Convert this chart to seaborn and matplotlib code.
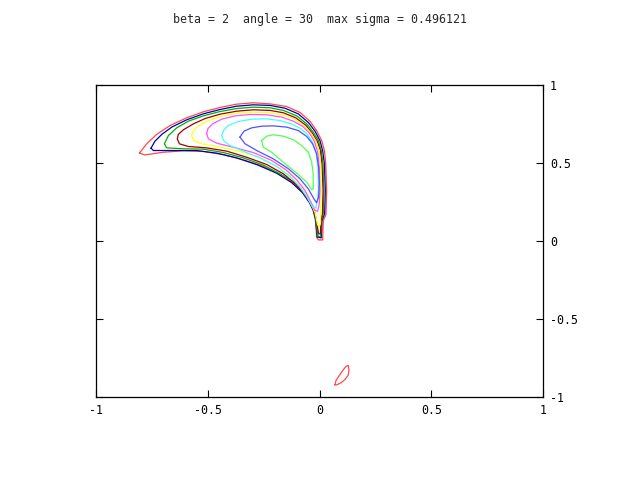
import pandas as pd
import seaborn as sns
import matplotlib.pyplot as plt

# contour lines, outermost first (x, y pairs)
c1_red = [(-0.806, 0.563), (-0.781, 0.552), (-0.699, 0.569), (-0.609, 0.578), (-0.520, 0.574),
          (-0.430, 0.554), (-0.341, 0.520), (-0.251, 0.478), (-0.177, 0.426), (-0.117, 0.371),
          (-0.072, 0.307), (-0.043, 0.243), (-0.025, 0.191), (-0.016, 0.142), (-0.013, 0.025),
          (-0.005, 0.007), (0.014, 0.007), (0.017, 0.131), (0.029, 0.170), (0.032, 0.324),
          (0.028, 0.495), (0.022, 0.580), (0.010, 0.644), (-0.013, 0.708), (-0.043, 0.768),
          (-0.087, 0.824), (-0.147, 0.862), (-0.221, 0.879), (-0.296, 0.886), (-0.371, 0.877),
          (-0.445, 0.856), (-0.520, 0.828), (-0.594, 0.790), (-0.669, 0.740), (-0.729, 0.683),
          (-0.773, 0.623), (-0.806, 0.563)]

c2_darkblue = [(-0.754, 0.595), (-0.743, 0.580), (-0.654, 0.580), (-0.550, 0.580), (-0.460, 0.563),
               (-0.371, 0.533), (-0.281, 0.490), (-0.192, 0.435), (-0.125, 0.375), (-0.077, 0.311),
               (-0.045, 0.247), (-0.028, 0.196), (-0.019, 0.142), (-0.010, 0.025), (0.008, 0.020),
               (0.011, 0.131), (0.023, 0.174), (0.026, 0.324), (0.022, 0.495), (0.014, 0.580),
               (0.002, 0.644), (-0.020, 0.704), (-0.050, 0.760), (-0.095, 0.815), (-0.154, 0.851),
               (-0.221, 0.869), (-0.296, 0.873), (-0.371, 0.864), (-0.445, 0.843), (-0.520, 0.815),
               (-0.594, 0.777), (-0.661, 0.730), (-0.706, 0.683), (-0.736, 0.640), (-0.754, 0.595)]

c3_green = [(-0.694, 0.623), (-0.684, 0.597), (-0.609, 0.591), (-0.520, 0.589), (-0.430, 0.567),
            (-0.341, 0.533), (-0.251, 0.486), (-0.177, 0.431), (-0.117, 0.379), (-0.072, 0.315),
            (-0.043, 0.251), (-0.025, 0.200), (-0.016, 0.131), (-0.007, 0.029), (0.005, 0.029),
            (0.008, 0.131), (0.017, 0.174), (0.020, 0.324), (0.016, 0.495), (0.008, 0.580),
            (-0.005, 0.644), (-0.028, 0.698), (-0.057, 0.751), (-0.102, 0.802), (-0.162, 0.837),
            (-0.221, 0.854), (-0.296, 0.858), (-0.371, 0.849), (-0.445, 0.830), (-0.520, 0.802),
            (-0.587, 0.768), (-0.639, 0.725), (-0.676, 0.676), (-0.694, 0.623)]

c4_darkred = [(-0.636, 0.655), (-0.627, 0.623), (-0.587, 0.606), (-0.505, 0.597), (-0.415, 0.576),
              (-0.326, 0.537), (-0.236, 0.490), (-0.162, 0.431), (-0.107, 0.366), (-0.066, 0.302),
              (-0.040, 0.238), (-0.022, 0.187), (-0.013, 0.121), (-0.004, 0.046), (0.004, 0.046),
              (0.007, 0.131), (0.013, 0.174), (0.016, 0.324), (0.011, 0.495), (0.004, 0.580),
              (-0.010, 0.640), (-0.032, 0.691), (-0.062, 0.743), (-0.107, 0.790), (-0.162, 0.822),
              (-0.221, 0.837), (-0.296, 0.841), (-0.371, 0.832), (-0.445, 0.813), (-0.512, 0.785),
              (-0.564, 0.751), (-0.609, 0.713), (-0.632, 0.683), (-0.636, 0.655)]

c5_yellow = [(-0.572, 0.676), (-0.564, 0.644), (-0.527, 0.623), (-0.460, 0.606), (-0.371, 0.580),
             (-0.281, 0.542), (-0.199, 0.486), (-0.139, 0.426), (-0.095, 0.362), (-0.060, 0.298),
             (-0.035, 0.232), (-0.019, 0.178), (-0.010, 0.110), (-0.002, 0.089), (0.004, 0.110),
             (0.005, 0.174), (0.008, 0.324), (0.005, 0.495), (-0.002, 0.580), (-0.016, 0.640),
             (-0.038, 0.691), (-0.068, 0.738), (-0.110, 0.781), (-0.162, 0.807), (-0.221, 0.822),
             (-0.296, 0.826), (-0.371, 0.819), (-0.438, 0.800), (-0.497, 0.772), (-0.542, 0.738),
             (-0.564, 0.708), (-0.572, 0.676)]

c6_magenta = [(-0.505, 0.687), (-0.497, 0.655), (-0.460, 0.627), (-0.386, 0.601), (-0.296, 0.567),
              (-0.214, 0.516), (-0.150, 0.456), (-0.102, 0.392), (-0.065, 0.324), (-0.038, 0.249),
              (-0.020, 0.196), (-0.008, 0.191), (-0.001, 0.238), (0.002, 0.324), (-0.001, 0.473),
              (-0.008, 0.569), (-0.023, 0.640), (-0.045, 0.691), (-0.075, 0.734), (-0.117, 0.768),
              (-0.169, 0.794), (-0.236, 0.809), (-0.311, 0.811), (-0.378, 0.802), (-0.438, 0.781),
              (-0.478, 0.751), (-0.499, 0.721), (-0.505, 0.687)]

c7_cyan = [(-0.438, 0.676), (-0.427, 0.640), (-0.400, 0.612), (-0.341, 0.576), (-0.266, 0.533),
           (-0.192, 0.478), (-0.132, 0.413), (-0.087, 0.345), (-0.054, 0.277), (-0.031, 0.217),
           (-0.016, 0.213), (-0.010, 0.260), (-0.005, 0.324), (-0.007, 0.473), (-0.016, 0.569),
           (-0.031, 0.634), (-0.054, 0.683), (-0.084, 0.721), (-0.125, 0.751), (-0.177, 0.772),
           (-0.236, 0.783), (-0.304, 0.781), (-0.363, 0.766), (-0.408, 0.740), (-0.430, 0.708),
           (-0.438, 0.676)]

c8_blue = [(-0.356, 0.666), (-0.333, 0.623), (-0.281, 0.580), (-0.207, 0.527), (-0.139, 0.463),
           (-0.087, 0.399), (-0.050, 0.334), (-0.025, 0.270), (-0.013, 0.245), (-0.004, 0.281),
           (-0.001, 0.366), (-0.004, 0.473), (-0.013, 0.559), (-0.031, 0.623), (-0.057, 0.670),
           (-0.095, 0.708), (-0.147, 0.730), (-0.207, 0.738), (-0.259, 0.736), (-0.304, 0.725),
           (-0.338, 0.704), (-0.356, 0.666)]

c9_lightgreen = [(-0.259, 0.644), (-0.251, 0.601), (-0.214, 0.569), (-0.154, 0.495), (-0.102, 0.435),
                 (-0.057, 0.377), (-0.035, 0.328), (-0.028, 0.334), (-0.028, 0.431), (-0.035, 0.505),
                 (-0.050, 0.569), (-0.080, 0.612), (-0.117, 0.649), (-0.162, 0.672), (-0.207, 0.681),
                 (-0.236, 0.672), (-0.259, 0.644)]

# small red loop near the bottom
c1_red_island = [(0.069, -0.922), (0.074, -0.894), (0.089, -0.862), (0.104, -0.830), (0.119, -0.803),
                 (0.129, -0.798), (0.132, -0.830), (0.128, -0.862), (0.114, -0.888), (0.096, -0.909),
                 (0.077, -0.922), (0.069, -0.922)]

contours = {
    'c1': c1_red, 'c1b': c1_red_island, 'c2': c2_darkblue, 'c3': c3_green,
    'c4': c4_darkred, 'c5': c5_yellow, 'c6': c6_magenta, 'c7': c7_cyan,
    'c8': c8_blue, 'c9': c9_lightgreen,
}
colors = {
    'c1': '#ff4848', 'c1b': '#ff4848', 'c2': '#0000b0', 'c3': '#00b000',
    'c4': '#a00000', 'c5': '#ffff20', 'c6': '#ff50ff', 'c7': '#40ffff',
    'c8': '#5050ff', 'c9': '#50ff50',
}

ticks = [-1, -0.5, 0, 0.5, 1]
tick_labels = ['-1', '-0.5', '0', '0.5', '1']
title = 'beta = 2  angle = 30  max sigma = 0.496121'

rows = []
for name, pts in contours.items():
    for i, (x, y) in enumerate(pts):
        rows.append({'line': name, 'order': i, 'x': x, 'y': y})
df = pd.DataFrame(rows)

sns.set_style('white')
plt.rcParams['font.family'] = ['DejaVu Sans Mono']
plt.rcParams['axes.unicode_minus'] = False

fig = plt.figure(figsize=(6.4, 4.8), dpi=100)
ax = fig.add_axes([96 / 640, 1 - 397 / 480, 447 / 640, 312 / 480])

for name in contours:
    sns.lineplot(
        data=df[df['line'] == name], x='x', y='y',
        sort=False, estimator=None, color=colors[name],
        linewidth=0.9, ax=ax, legend=False
    )

ax.set_xlim(-1, 1)
ax.set_ylim(-1, 1)
ax.set_xticks(ticks)
ax.set_xticklabels(tick_labels)
ax.set_yticks(ticks)
ax.set_yticklabels(tick_labels)
ax.set_xlabel('')
ax.set_ylabel('')
ax.tick_params(direction='in', length=5, width=0.8, top=True, bottom=True,
               left=True, right=True, labelleft=False, labelright=True,
               labelsize=8.4, colors='black', pad=5)
for s in ax.spines.values():
    s.set_color('black')
    s.set_linewidth(0.9)

fig.text(0.5, 1 - 20 / 480, title, ha='center', va='center', fontsize=8.4)

plt.savefig('out.png', dpi=100)
plt.close()
